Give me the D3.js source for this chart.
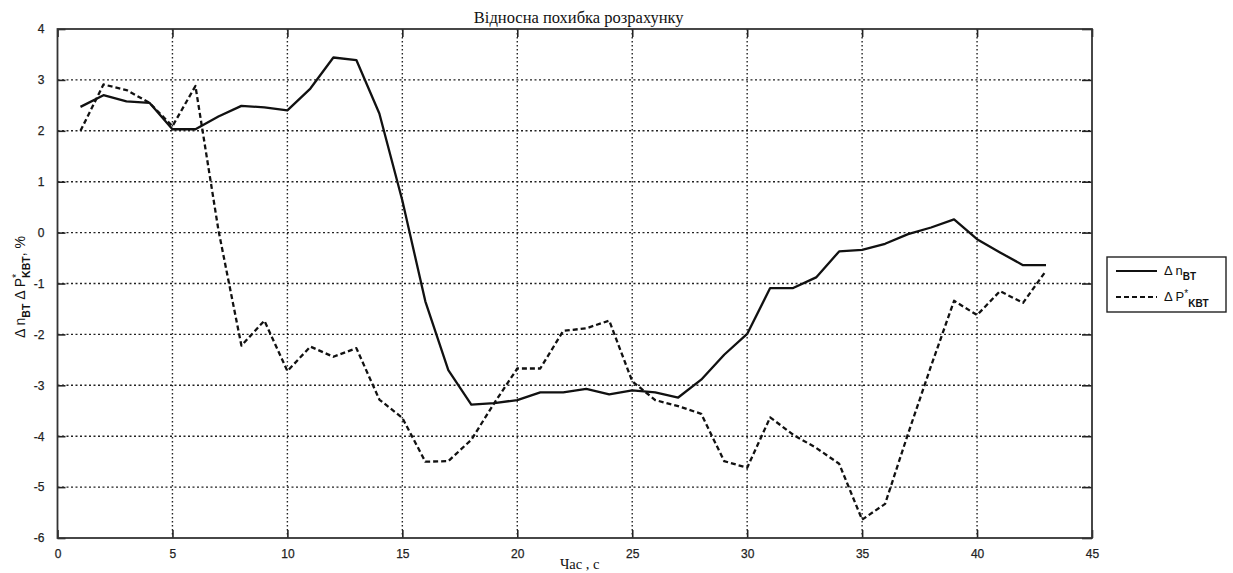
<!DOCTYPE html>
<html>
<head>
<meta charset="utf-8">
<script src="https://cdn.jsdelivr.net/npm/d3@7"></script>
<style>
  body { margin: 0; background: #fff; }
  svg { display: block; }
</style>
</head>
<body>
<script>
const width = 1233, height = 573;
const margin = {left: 57.5, top: 29, right: 141, bottom: 35};

// time, s
const time = d3.range(1, 44);
// Δ n_BT, %
const dnBT = [2.47, 2.70, 2.58, 2.55, 2.03, 2.03, 2.28, 2.49, 2.46, 2.40,
  2.83, 3.44, 3.39, 2.34, 0.63, -1.35, -2.70, -3.38, -3.35, -3.29,
  -3.14, -3.14, -3.07, -3.18, -3.10, -3.14, -3.24, -2.89, -2.40, -1.99,
  -1.09, -1.09, -0.88, -0.37, -0.34, -0.22, -0.03, 0.10, 0.26, -0.13,
  -0.39, -0.64, -0.64];
// Δ P*_KBT, %
const dPKBT = [2.00, 2.91, 2.80, 2.55, 2.09, 2.88, 0.05, -2.22, -1.73, -2.72,
  -2.24, -2.44, -2.27, -3.28, -3.64, -4.50, -4.49, -4.07, -3.35, -2.67,
  -2.67, -1.93, -1.88, -1.73, -2.92, -3.29, -3.41, -3.56, -4.49, -4.62,
  -3.63, -3.97, -4.23, -4.54, -5.64, -5.33, -3.95, -2.62, -1.34, -1.62,
  -1.15, -1.38, -0.75];
const xTicks = [0, 5, 10, 15, 20, 25, 30, 35, 40, 45];
const yTicks = [-6, -5, -4, -3, -2, -1, 0, 1, 2, 3, 4];

const svg = d3.select("body").append("svg").attr("width", width).attr("height", height);
const x = d3.scaleLinear().domain([0, 45]).range([margin.left, width - margin.right]);
const y = d3.scaleLinear().domain([-6, 4]).range([height - margin.bottom, margin.top]);
const x0 = x(0), x1 = x(45), y0 = y(-6), y1 = y(4);

// grid
svg.append("g").selectAll("line").data(xTicks.slice(1, -1)).enter().append("line")
  .attr("x1", d => x(d)).attr("x2", d => x(d)).attr("y1", y1).attr("y2", y0)
  .attr("stroke", "#222").attr("stroke-width", 1.4).attr("stroke-dasharray", "1.5,2.5");
svg.append("g").selectAll("line").data(yTicks.slice(1, -1)).enter().append("line")
  .attr("x1", x0).attr("x2", x1).attr("y1", d => y(d)).attr("y2", d => y(d))
  .attr("stroke", "#222").attr("stroke-width", 1.4).attr("stroke-dasharray", "2,2.5");

// axes with inner ticks
const tickFont = "'Liberation Sans', Arial, sans-serif";
const fmt = d => String(d);
const gx = svg.append("g").attr("transform", `translate(0,${y0})`)
  .call(d3.axisBottom(x).tickValues(xTicks).tickFormat(fmt).tickSizeInner(-8).tickSizeOuter(0).tickPadding(11));
const gxt = svg.append("g").attr("transform", `translate(0,${y1})`)
  .call(d3.axisTop(x).tickValues(xTicks).tickSizeInner(-8).tickSizeOuter(0).tickFormat(""));
const gy = svg.append("g").attr("transform", `translate(${x0},0)`)
  .call(d3.axisLeft(y).tickValues(yTicks).tickFormat(fmt).tickSizeInner(-8).tickSizeOuter(0).tickPadding(13));
const gyr = svg.append("g").attr("transform", `translate(${x1},0)`)
  .call(d3.axisRight(y).tickValues(yTicks).tickSizeInner(-10).tickSizeOuter(0).tickFormat(""));
[gx, gxt, gy, gyr].forEach(g => {
  g.select(".domain").remove();
  g.selectAll(".tick line").attr("stroke", "#222").attr("stroke-width", 1.6);
  g.selectAll("text").attr("font-family", tickFont).attr("font-size", 12).attr("fill", "#222")
    .attr("stroke", "#222").attr("stroke-width", 0.25);
});

svg.append("rect").attr("x", x0).attr("y", y1).attr("width", x1 - x0).attr("height", y0 - y1)
  .attr("fill", "none").attr("stroke", "#333").attr("stroke-width", 1.8);

// series
const line = data => d3.line().x((d, i) => x(time[i])).y(d => y(d))(data);
svg.append("path").attr("d", line(dPKBT)).attr("fill", "none").attr("stroke", "#111")
  .attr("stroke-width", 2.3).attr("stroke-dasharray", "5,3").attr("stroke-linejoin", "round");
svg.append("path").attr("d", line(dnBT)).attr("fill", "none").attr("stroke", "#111")
  .attr("stroke-width", 2.3).attr("stroke-linejoin", "round");

// title
svg.append("text").attr("x", (x0 + x1) / 2 + 4).attr("y", 23).attr("text-anchor", "middle")
  .attr("font-family", "'Liberation Serif', 'Times New Roman', serif").attr("font-size", 16.5)
  .attr("fill", "#111").text("Відносна похибка розрахунку");

// x label
svg.append("text").attr("x", (x0 + x1) / 2 + 5).attr("y", 569).attr("text-anchor", "middle")
  .attr("font-family", "'Liberation Serif', 'Times New Roman', serif").attr("font-size", 14.5)
  .attr("fill", "#111").text("Час , с");

// y label
const yl = svg.append("text").attr("transform", "translate(25,287) rotate(-90)")
  .attr("text-anchor", "middle").attr("font-family", tickFont).attr("font-size", 14).attr("fill", "#111");
yl.append("tspan").text("Δ n");
yl.append("tspan").attr("font-size", 10.5).attr("dy", 5).attr("font-weight", "bold").text("BT");
yl.append("tspan").attr("dy", -5).text(" Δ P");
yl.append("tspan").attr("font-size", 10.5).attr("dy", -5).text("*");
yl.append("tspan").attr("font-size", 10.5).attr("dy", 10).attr("dx", -4).attr("font-weight", "bold").text("KBT");
yl.append("tspan").attr("dy", -5).text(", %");

// legend
const lg = svg.append("g").attr("transform", "translate(1107,257)");
lg.append("rect").attr("width", 119).attr("height", 55).attr("fill", "#fff")
  .attr("stroke", "#222").attr("stroke-width", 1.4);
const items = [
  {name: "Δ n", sub: "BT", sup: "", dash: null},
  {name: "Δ P", sub: "KBT", sup: "*", dash: "5,3"}
];
items.forEach((d, i) => {
  const yy = 14 + i * 26;
  lg.append("line").attr("x1", 9).attr("x2", 50).attr("y1", yy).attr("y2", yy)
    .attr("stroke", "#111").attr("stroke-width", 2.2).attr("stroke-dasharray", d.dash);
  const t = lg.append("text").attr("x", 57).attr("y", yy + 4)
    .attr("font-family", tickFont).attr("font-size", 13).attr("fill", "#111");
  t.append("tspan").text(d.name);
  if (d.sup) t.append("tspan").attr("font-size", 10).attr("dy", -4).text(d.sup);
  t.append("tspan").attr("font-size", 10).attr("font-weight", "bold")
    .attr("dy", d.sup ? 10 : 5).text(d.sub);
});
</script>
</body>
</html>
